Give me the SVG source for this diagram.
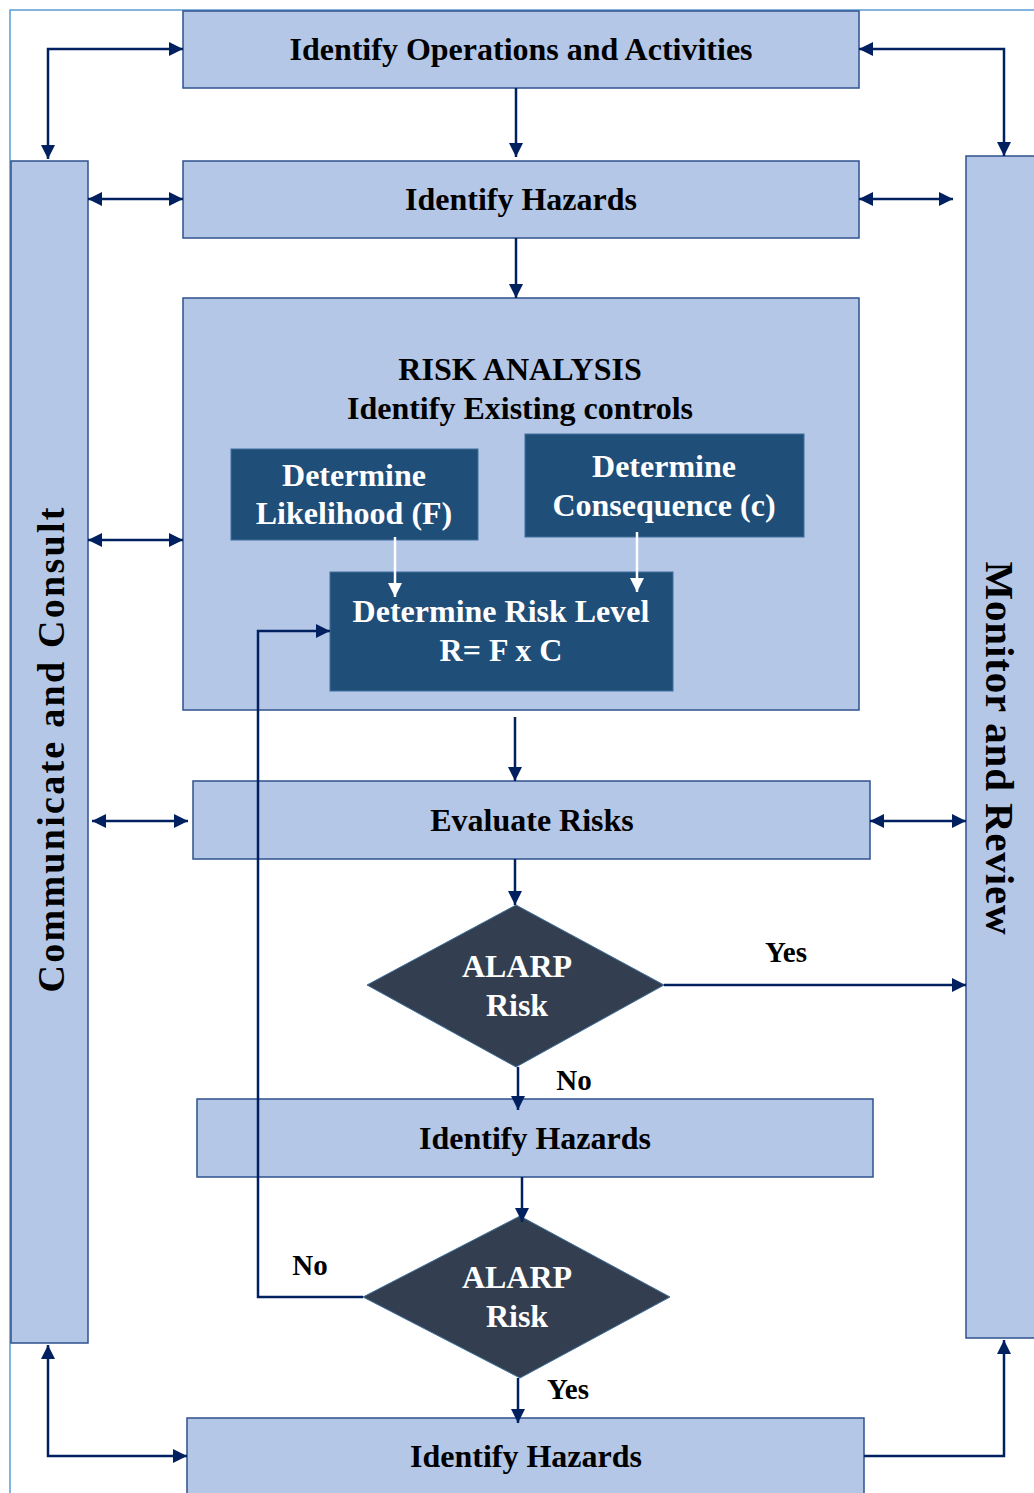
<svg xmlns="http://www.w3.org/2000/svg" width="1034" height="1493" viewBox="0 0 1034 1493">
<style>
.lb{fill:#B4C7E7;stroke:#2F528F;stroke-width:1.5}
.db{fill:#1F4E79;stroke:#41719C;stroke-width:1}
.dia{fill:#333F50;stroke:#41719C;stroke-width:1}
.t{font-family:"Liberation Serif","Times New Roman",serif;font-weight:bold;font-size:32px;fill:#000;text-anchor:middle}
.w{fill:#fff}
.c{fill:none;stroke:#002060;stroke-width:2.5}
.cw{fill:none;stroke:#fff;stroke-width:2.5}
</style>
<defs>
<marker id="ah" viewBox="0 0 10 10" refX="10" refY="5" markerWidth="16" markerHeight="14" markerUnits="userSpaceOnUse" orient="auto-start-reverse"><path d="M0,0 L10,5 L0,10 z" fill="#002060"/></marker>
<marker id="aw" viewBox="0 0 10 10" refX="10" refY="5" markerWidth="16" markerHeight="14" markerUnits="userSpaceOnUse" orient="auto"><path d="M0,0 L10,5 L0,10 z" fill="#fff"/></marker>
</defs>
<rect x="0" y="0" width="1034" height="1493" fill="#fff"/>
<path d="M10,1493 V10 H1034" fill="none" stroke="#5B9BD5" stroke-width="1.5"/>

<g id="n-ops"><rect class="lb" x="183" y="11" width="676" height="77"/><text class="t" x="521" y="60">Identify Operations and Activities</text></g>
<g id="n-haz1"><rect class="lb" x="183" y="161" width="676" height="77"/><text class="t" x="521" y="210">Identify Hazards</text></g>
<g id="n-comm"><rect class="lb" x="11" y="161" width="77" height="1182"/><text class="t" transform="translate(64,750) rotate(-90)" x="0" y="0" style="font-size:38px" textLength="485" lengthAdjust="spacing">Communicate and Consult</text></g>
<g id="n-mon"><rect class="lb" x="966" y="156" width="80" height="1182"/><text class="t" transform="translate(986,748) rotate(90)" x="0" y="0" style="font-size:41px" textLength="373" lengthAdjust="spacing">Monitor and Review</text></g>
<g id="n-ra"><rect class="lb" x="183" y="298" width="676" height="412"/><text class="t" x="520" y="380">RISK ANALYSIS</text><text class="t" x="520" y="419">Identify Existing controls</text></g>
<g id="n-like"><rect class="db" x="231" y="449" width="247" height="91"/><text class="t w" x="354" y="486">Determine</text><text class="t w" x="354" y="524">Likelihood (F)</text></g>
<g id="n-cons"><rect class="db" x="525" y="434" width="279" height="103"/><text class="t w" x="664" y="477">Determine</text><text class="t w" x="664" y="516">Consequence (c)</text></g>
<g id="n-rl"><rect class="db" x="330" y="572" width="343" height="119"/><text class="t w" x="501" y="622">Determine Risk Level</text><text class="t w" x="501" y="661">R= F x C</text></g>
<g id="n-eval"><rect class="lb" x="193" y="781" width="677" height="78"/><text class="t" x="532" y="831">Evaluate Risks</text></g>
<g id="n-d1"><polygon class="dia" points="516,905 664,985 516,1067 367,985"/><text class="t w" x="517" y="977">ALARP</text><text class="t w" x="517" y="1016">Risk</text></g>
<g id="n-haz2"><rect class="lb" x="197" y="1099" width="676" height="78"/><text class="t" x="535" y="1149">Identify Hazards</text></g>
<g id="n-d2"><polygon class="dia" points="520,1216 670,1297 520,1378 363,1297"/><text class="t w" x="517" y="1288">ALARP</text><text class="t w" x="517" y="1327">Risk</text></g>
<g id="n-haz3"><rect class="lb" x="187" y="1418" width="677" height="90"/><text class="t" x="526" y="1467">Identify Hazards</text></g>

<g id="connectors">
<path class="c" d="M48,159 V49 H183" marker-start="url(#ah)" marker-end="url(#ah)"/>
<path class="c" d="M859,49 H1004 V156" marker-start="url(#ah)" marker-end="url(#ah)"/>
<path class="c" d="M516,88 V157" marker-end="url(#ah)"/>
<path class="c" d="M88,199 H183" marker-start="url(#ah)" marker-end="url(#ah)"/>
<path class="c" d="M859,199 H953" marker-start="url(#ah)" marker-end="url(#ah)"/>
<path class="c" d="M516,238 V298" marker-end="url(#ah)"/>
<path class="c" d="M88,540 H183" marker-start="url(#ah)" marker-end="url(#ah)"/>
<path class="cw" d="M395,537 V597" marker-end="url(#aw)"/>
<path class="cw" d="M637,532 V592" marker-end="url(#aw)"/>
<path class="c" d="M515,717 V781" marker-end="url(#ah)"/>
<path class="c" d="M92,821 H188" marker-start="url(#ah)" marker-end="url(#ah)"/>
<path class="c" d="M870,821 H966" marker-start="url(#ah)" marker-end="url(#ah)"/>
<path class="c" d="M515,859 V905" marker-end="url(#ah)"/>
<path class="c" d="M664,985 H966" marker-end="url(#ah)"/>
<path class="c" d="M518,1067 V1110" marker-end="url(#ah)"/>
<path class="c" d="M522,1177 V1222" marker-end="url(#ah)"/>
<path class="c" d="M363,1297 H258 V631 H330" marker-end="url(#ah)"/>
<path class="c" d="M518,1378 V1423" marker-end="url(#ah)"/>
<path class="c" d="M48,1345 V1456 H187" marker-start="url(#ah)" marker-end="url(#ah)"/>
<path class="c" d="M864,1456 H1004 V1340" marker-end="url(#ah)"/>
<text class="t" x="786" y="962" style="font-size:29px">Yes</text>
<text class="t" x="574" y="1090" style="font-size:29px">No</text>
<text class="t" x="310" y="1275" style="font-size:29px">No</text>
<text class="t" x="568" y="1399" style="font-size:29px">Yes</text>
</g>
</svg>
